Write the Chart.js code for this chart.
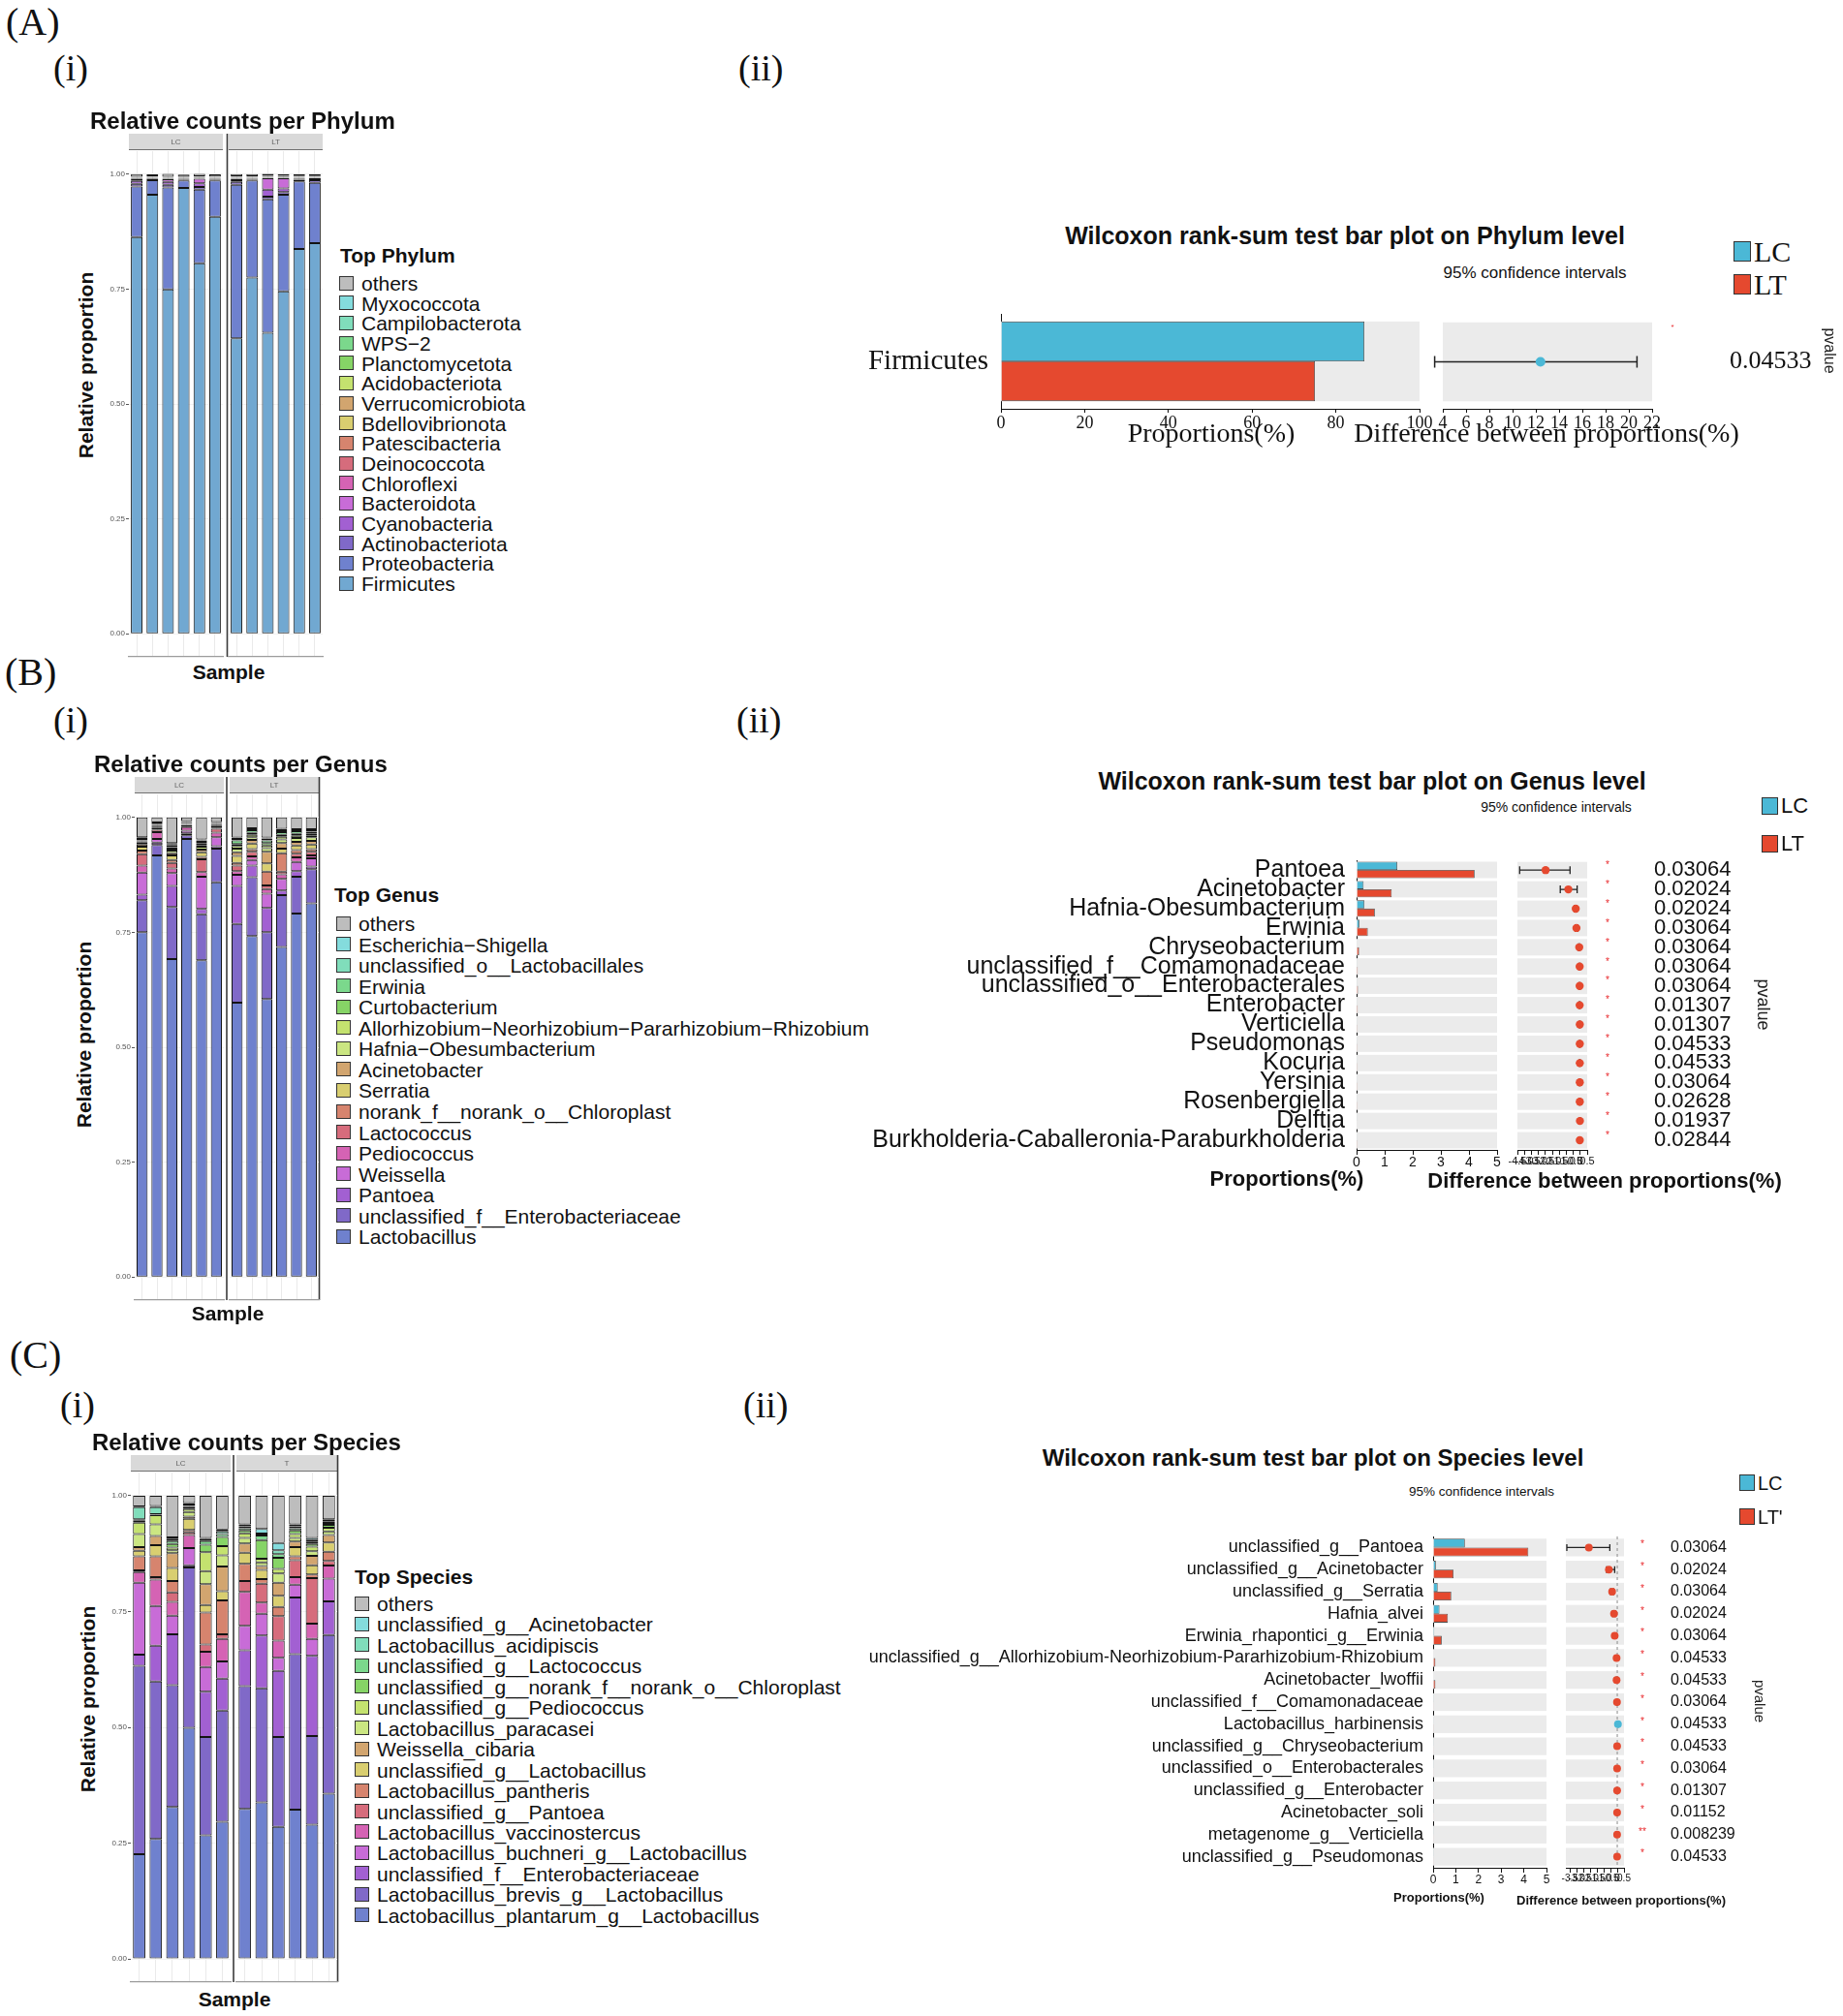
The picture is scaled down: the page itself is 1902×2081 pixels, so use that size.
<!DOCTYPE html>
<html>
<head>
<meta charset="utf-8">
<script src="https://cdn.jsdelivr.net/npm/chart.js@4.4.1/dist/chart.umd.min.js"></script>
<style>
html, body { margin: 0; padding: 0; background: #fff; }
#page { position: relative; width: 1902px; height: 2081px; overflow: hidden; font-family: 'Liberation Sans', Arial, sans-serif; color: #111; }
.t { position: absolute; white-space: nowrap; line-height: 1; }
.cv { position: absolute; }
.box { position: absolute; box-sizing: border-box; border: 1px solid #333; }
</style>
</head>
<body>
<div id="page"></div>
<script>
/* ---------- data: stacked relative abundance (columns = samples) ---------- */
const sampleLabels = ['LC1','LC2','LC3','LC4','LC5','LC6','LT1','LT2','LT3','LT4','LT5','LT6'];

const phylumNames = ['others','Myxococcota','Campilobacterota','WPS\u22122','Planctomycetota','Acidobacteriota',
  'Verrucomicrobiota','Bdellovibrionota','Patescibacteria','Deinococcota','Chloroflexi','Bacteroidota',
  'Cyanobacteria','Actinobacteriota','Proteobacteria','Firmicutes'];
const phylumValues = [
  [0.006,0.004,0.006,0.005,0.005,0.005, 0.005,0.005,0.004,0.004,0.004,0.004],
  [0.0004,0.0003,0.0005,0.0002,0.0004,0.0003, 0.0004,0.0003,0.0005,0.0004,0.0003,0.0004],
  [0.0003,0.0002,0.0004,0.0002,0.0005,0.0003, 0.0005,0.0004,0.0004,0.0003,0.0004,0.0003],
  [0.0005,0.0003,0.0004,0.0003,0.0004,0.0002, 0.0004,0.0005,0.0006,0.0005,0.0004,0.0004],
  [0.0004,0.0004,0.0006,0.0003,0.0005,0.0004, 0.0006,0.0005,0.0005,0.0006,0.0005,0.0005],
  [0.0005,0.0004,0.0005,0.0004,0.0006,0.0005, 0.0005,0.0006,0.0006,0.0005,0.0006,0.0005],
  [0.0006,0.0005,0.0006,0.0004,0.0005,0.0005, 0.0006,0.0005,0.0007,0.0006,0.0005,0.0006],
  [0.0005,0.0006,0.0005,0.0005,0.0006,0.0006, 0.0005,0.0006,0.0005,0.0006,0.0006,0.0005],
  [0.0006,0.0005,0.0007,0.0005,0.0006,0.0005, 0.0006,0.0005,0.0006,0.0005,0.0005,0.0006],
  [0.0005,0.0005,0.0005,0.0006,0.0005,0.0006, 0.0005,0.0006,0.0005,0.0006,0.0006,0.0006],
  [0.0007,0.0006,0.0006,0.0006,0.0007,0.0006, 0.0005,0.0005,0.0006,0.0006,0.0006,0.0005],
  [0.004,0.001,0.006,0.001,0.010,0.001, 0.003,0.001,0.025,0.022,0.001,0.002],
  [0.006,0.001,0.006,0.001,0.008,0.001, 0.004,0.001,0.015,0.008,0.002,0.002],
  [0.006,0.002,0.006,0.002,0.006,0.002, 0.006,0.002,0.006,0.006,0.004,0.006],
  [0.110,0.032,0.222,0.016,0.160,0.079, 0.334,0.211,0.290,0.210,0.147,0.131],
  [0.863,0.955,0.749,0.970,0.806,0.907, 0.643,0.775,0.655,0.745,0.837,0.850]
];
const phylumColors = ['#BDBDBD','#84DCDD','#80DDBB','#7BD88C','#86D466','#C4E26F','#D2A56F','#D9CE70',
  '#D6846E','#D66C7C','#D563B4','#C86CD7','#A260D2','#8069C8','#6F81CE','#71A8D1'];

const genusNames = ['others','Escherichia\u2212Shigella','unclassified_o__Lactobacillales','Erwinia','Curtobacterium',
  'Allorhizobium\u2212Neorhizobium\u2212Pararhizobium\u2212Rhizobium','Hafnia\u2212Obesumbacterium','Acinetobacter','Serratia',
  'norank_f__norank_o__Chloroplast','Lactococcus','Pediococcus','Weissella','Pantoea',
  'unclassified_f__Enterobacteriaceae','Lactobacillus'];
const genusValues = [
  [0.043,0.011,0.056,0.008,0.048,0.010, 0.044,0.024,0.044,0.025,0.026,0.026],
  [0.002,0.002,0.002,0.001,0.002,0.001, 0.003,0.002,0.002,0.003,0.002,0.002],
  [0.002,0.001,0.003,0.001,0.003,0.001, 0.003,0.002,0.004,0.004,0.002,0.003],
  [0.003,0.002,0.004,0.001,0.004,0.001, 0.008,0.006,0.006,0.006,0.006,0.004],
  [0.002,0.001,0.003,0.001,0.003,0.001, 0.004,0.004,0.005,0.004,0.004,0.004],
  [0.003,0.001,0.004,0.001,0.004,0.001, 0.006,0.005,0.006,0.006,0.005,0.004],
  [0.004,0.002,0.006,0.001,0.006,0.002, 0.008,0.006,0.008,0.008,0.008,0.008],
  [0.005,0.002,0.005,0.001,0.006,0.002, 0.008,0.008,0.025,0.012,0.008,0.008],
  [0.008,0.002,0.010,0.001,0.010,0.003, 0.015,0.012,0.018,0.010,0.010,0.010],
  [0.008,0.003,0.006,0.001,0.005,0.003, 0.006,0.006,0.030,0.040,0.008,0.006],
  [0.025,0.005,0.012,0.004,0.028,0.008, 0.012,0.010,0.008,0.006,0.008,0.008],
  [0.015,0.015,0.010,0.008,0.010,0.010, 0.008,0.008,0.010,0.010,0.010,0.006],
  [0.048,0.008,0.028,0.006,0.070,0.020, 0.024,0.012,0.031,0.025,0.020,0.018],
  [0.012,0.005,0.046,0.004,0.012,0.005, 0.083,0.025,0.053,0.010,0.012,0.006],
  [0.070,0.023,0.113,0.008,0.100,0.073, 0.171,0.128,0.145,0.113,0.080,0.074],
  [0.750,0.917,0.692,0.953,0.689,0.859, 0.597,0.742,0.605,0.718,0.791,0.813]
];
const genusColors = ['#BDBDBD','#84DCDD','#80DDBB','#7BD88C','#86D466','#C4E26F','#CBE682','#D2A56F',
  '#D9CE70','#D6846E','#D66C7C','#D563B4','#C86CD7','#A260D2','#8069C8','#6F81CE'];

const speciesNames = ['others','unclassified_g__Acinetobacter','Lactobacillus_acidipiscis','unclassified_g__Lactococcus',
  'unclassified_g__norank_f__norank_o__Chloroplast','unclassified_g__Pediococcus','Lactobacillus_paracasei',
  'Weissella_cibaria','unclassified_g__Lactobacillus','Lactobacillus_pantheris','unclassified_g__Pantoea',
  'Lactobacillus_vaccinostercus','Lactobacillus_buchneri_g__Lactobacillus','unclassified_f__Enterobacteriaceae',
  'Lactobacillus_brevis_g__Lactobacillus','Lactobacillus_plantarum_g__Lactobacillus'];
const speciesValues = [
  [0.023,0.022,0.090,0.016,0.091,0.073, 0.062,0.072,0.102,0.062,0.091,0.051],
  [0.002,0.003,0.004,0.003,0.003,0.004, 0.004,0.010,0.016,0.004,0.005,0.004],
  [0.026,0.015,0.004,0.003,0.004,0.006, 0.004,0.004,0.008,0.004,0.004,0.004],
  [0.003,0.001,0.006,0.003,0.008,0.006, 0.005,0.010,0.008,0.005,0.004,0.004],
  [0.004,0.001,0.008,0.004,0.016,0.020, 0.006,0.040,0.024,0.008,0.006,0.006],
  [0.025,0.020,0.006,0.006,0.041,0.020, 0.010,0.008,0.010,0.008,0.010,0.008],
  [0.028,0.025,0.006,0.010,0.028,0.024, 0.012,0.008,0.020,0.008,0.010,0.008],
  [0.008,0.020,0.032,0.005,0.045,0.053, 0.020,0.008,0.028,0.012,0.020,0.016],
  [0.012,0.024,0.028,0.024,0.016,0.020, 0.024,0.020,0.024,0.020,0.020,0.020],
  [0.030,0.045,0.025,0.005,0.069,0.073, 0.037,0.010,0.020,0.008,0.008,0.020],
  [0.004,0.005,0.020,0.006,0.016,0.010, 0.024,0.041,0.053,0.037,0.098,0.010],
  [0.023,0.057,0.030,0.028,0.033,0.049, 0.073,0.024,0.037,0.016,0.033,0.028],
  [0.155,0.086,0.040,0.037,0.053,0.037, 0.053,0.047,0.028,0.028,0.037,0.049],
  [0.024,0.077,0.110,0.005,0.098,0.069, 0.077,0.114,0.143,0.122,0.173,0.073],
  [0.407,0.340,0.263,0.346,0.212,0.240, 0.265,0.246,0.194,0.336,0.191,0.342],
  [0.226,0.259,0.328,0.499,0.267,0.296, 0.324,0.338,0.285,0.322,0.290,0.357]
];
const speciesColors = genusColors;

/* ---------- data: Wilcoxon rank-sum tests (proportions in %) ---------- */
const phylumTestNames = ['Firmicutes'];
const phylumTestLC = [86.8];
const phylumTestLT = [75.0];
const phylumDiff = [12.4];
const phylumLow = [3.3];
const phylumHigh = [20.7];
const phylumP = ['0.04533'];
const phylumStars = ['*'];

const genusTestNames = ['Pantoea','Acinetobacter','Hafnia-Obesumbacterium','Erwinia','Chryseobacterium',
  'unclassified_f__Comamonadaceae','unclassified_o__Enterobacterales','Enterobacter','Verticiella','Pseudomonas',
  'Kocuria','Yersinia','Rosenbergiella','Delftia','Burkholderia-Caballeronia-Paraburkholderia'];
const genusTestLC = [1.45,0.25,0.28,0.10,0.02,0.01,0.01,0.01,0.01,0.01,0.01,0.01,0.01,0.01,0.01];
const genusTestLT = [4.20,1.25,0.65,0.40,0.09,0.04,0.05,0.04,0.03,0.03,0.03,0.03,0.03,0.02,0.03];
const genusDiff = [-2.48,-0.85,-0.32,-0.27,-0.07,-0.04,-0.04,-0.04,-0.03,-0.03,-0.03,-0.03,-0.03,-0.02,-0.03];
const genusLow = [-4.34,-1.43,-0.40,-0.35,-0.12,-0.07,-0.08,-0.07,-0.05,-0.05,-0.05,-0.05,-0.05,-0.04,-0.05];
const genusHigh = [-0.73,-0.22,-0.24,-0.19,-0.03,-0.01,-0.01,-0.01,-0.01,-0.01,-0.01,-0.01,-0.01,0.00,-0.01];
const genusP = ['0.03064','0.02024','0.02024','0.03064','0.03064','0.03064','0.03064','0.01307','0.01307',
  '0.04533','0.04533','0.03064','0.02628','0.01937','0.02844'];
const genusStars = ['*','*','*','*','*','*','*','*','*','*','*','*','*','*','*'];

const speciesTestNames = ['unclassified_g__Pantoea','unclassified_g__Acinetobacter','unclassified_g__Serratia',
  'Hafnia_alvei','Erwinia_rhapontici_g__Erwinia','unclassified_g__Allorhizobium-Neorhizobium-Pararhizobium-Rhizobium',
  'Acinetobacter_lwoffii','unclassified_f__Comamonadaceae','Lactobacillus_harbinensis','unclassified_g__Chryseobacterium',
  'unclassified_o__Enterobacterales','unclassified_g__Enterobacter','Acinetobacter_soli','metagenome_g__Verticiella',
  'unclassified_g__Pseudomonas'];
const speciesTestLC = [1.40,0.12,0.20,0.28,0.05,0.02,0.02,0.01,0.03,0.01,0.01,0.01,0.01,0.01,0.01];
const speciesTestLT = [4.20,0.90,0.80,0.65,0.38,0.10,0.10,0.03,0.01,0.03,0.03,0.03,0.03,0.03,0.03];
const speciesDiff = [-2.10,-0.62,-0.38,-0.24,-0.19,-0.05,-0.05,-0.02,0.05,-0.01,-0.01,-0.01,-0.01,-0.01,-0.01];
const speciesLow = [-3.73,-0.79,-0.50,-0.34,-0.27,-0.10,-0.10,-0.04,0.02,-0.03,-0.03,-0.03,-0.03,-0.03,-0.03];
const speciesHigh = [-0.55,-0.19,-0.27,-0.15,-0.11,-0.01,-0.01,0.00,0.08,0.01,0.01,0.01,0.01,0.01,0.01];
const speciesP = ['0.03064','0.02024','0.03064','0.02024','0.03064','0.04533','0.04533','0.03064','0.04533',
  '0.04533','0.03064','0.01307','0.01152','0.008239','0.04533'];
const speciesStars = ['*','*','*','*','*','*','*','*','*','*','*','*','*','**','*'];

/* ---------- helpers ---------- */
const SANS = "'Liberation Sans', Arial, Helvetica, sans-serif";
const SERIF = "'Liberation Serif', 'Times New Roman', serif";
const LC_COL = '#4BB8D6', LT_COL = '#E5492F';
const page = document.getElementById('page');

Chart.defaults.animation = false;
Chart.defaults.maintainAspectRatio = false;
Chart.defaults.font.family = SANS;
Chart.defaults.plugins.legend.display = false;
Chart.defaults.plugins.tooltip.enabled = false;

function txt(s, x, y, o) {
  o = o || {};
  const d = document.createElement('div');
  d.className = 't';
  d.textContent = s;
  d.style.left = x + 'px';
  d.style.top = y + 'px';
  d.style.fontSize = (o.size || 16) + 'px';
  if (o.bold) d.style.fontWeight = 'bold';
  if (o.serif) d.style.fontFamily = SERIF;
  const ax = o.align === 'center' ? '-50%' : o.align === 'right' ? '-100%' : '0';
  d.style.transform = 'translate(' + ax + ',-50%)' + (o.rot ? ' rotate(' + o.rot + 'deg)' : '');
  page.appendChild(d);
}

function box(x, y, w, h, color) {
  const d = document.createElement('div');
  d.className = 'box';
  d.style.cssText = 'left:' + x + 'px;top:' + y + 'px;width:' + w + 'px;height:' + h + 'px;background:' + color;
  page.appendChild(d);
}

function makeCanvas(x, y, w, h) {
  const d = document.createElement('div');
  d.className = 'cv';
  d.style.cssText = 'left:' + x + 'px;top:' + y + 'px;width:' + w + 'px;height:' + h + 'px';
  const c = document.createElement('canvas');
  d.appendChild(c);
  page.appendChild(d);
  return c;
}

// force an axis to a fixed size so the chart area lands where we want it
function fix(w, h) {
  return s => {
    if (w !== null) s.width = w;
    if (h !== null) s.height = h;
    s.paddingLeft = s.paddingRight = s.paddingTop = s.paddingBottom = 0;
  };
}

/* facet strip + panel lines for the stacked bar charts */
const facetPlugin = {
  id: 'facet',
  beforeDraw(chart, args, o) {
    const {ctx, chartArea: a} = chart;
    ctx.save();
    ctx.fillStyle = '#D9D9D9';
    ctx.fillRect(a.left, a.top - 18, a.width, 17);
    ctx.strokeStyle = '#707070';
    ctx.lineWidth = 1.2;
    ctx.beginPath(); ctx.moveTo(a.left, a.top - 1.5); ctx.lineTo(a.right, a.top - 1.5); ctx.stroke();
    ctx.fillStyle = '#666';
    ctx.font = '8px ' + SANS;
    ctx.textAlign = 'center';
    ctx.textBaseline = 'middle';
    ctx.fillText(o.text, (a.left + a.right) / 2, a.top - 9.5);
    ctx.strokeStyle = '#3a3a3a';
    ctx.lineWidth = 1.6;
    if (o.left != null) {
      ctx.beginPath(); ctx.moveTo(a.left - o.left, a.top - 18); ctx.lineTo(a.left - o.left, a.bottom); ctx.stroke();
    }
    if (o.right) {
      ctx.beginPath(); ctx.moveTo(a.right + 0.5, a.top - 18); ctx.lineTo(a.right + 0.5, a.bottom); ctx.stroke();
    }
    ctx.restore();
  }
};

function facet(o) {
  const m = {left: o.showY ? 28 : 6, top: 20, right: 4, bottom: 3};
  const A = o.area;
  const cv = makeCanvas(A.l - m.left, A.t - m.top, A.r - A.l + m.left + m.right, A.b - A.t + m.top + m.bottom);
  const datasets = [];
  for (let k = o.names.length - 1; k >= 0; k--) {
    datasets.push({
      label: o.names[k],
      data: o.rows[k].slice(o.from, o.from + 6),
      backgroundColor: o.colors[k],
      borderColor: '#141414',
      borderWidth: 1,
      borderSkipped: false,
      barPercentage: 0.74,
      categoryPercentage: 1
    });
  }
  new Chart(cv, {
    type: 'bar',
    data: {labels: sampleLabels.slice(o.from, o.from + 6), datasets},
    options: {
      layout: {padding: {left: o.showY ? 0 : m.left, top: m.top, right: m.right, bottom: m.bottom}},
      plugins: {facet: {text: o.strip, left: o.leftLine, right: o.rightLine}},
      scales: {
        x: {
          stacked: true, offset: true,
          ticks: {display: false},
          grid: {color: '#EAEAEA', offset: false, drawTicks: false},
          border: {color: '#9C9C9C', width: 1.2},
          afterFit: fix(null, 0)
        },
        y: {
          stacked: true, min: -0.05, max: 1.05,
          ticks: {display: o.showY, stepSize: 0.25, includeBounds: false, padding: 1,
                  color: '#555', font: {size: 8}, callback: v => v.toFixed(2)},
          grid: {color: '#F2F2F2', drawTicks: o.showY, tickLength: 3, tickColor: '#555'},
          border: {display: false},
          afterFit: fix(o.showY ? 28 : 0, null)
        }
      }
    },
    plugins: [facetPlugin]
  });
}

function stackPanel(p) {
  facet({area: {l: p.lc[0], r: p.lc[1], t: p.t, b: p.b}, names: p.names, colors: p.colors, rows: p.rows,
         from: 0, strip: 'LC', showY: true});
  facet({area: {l: p.lt[0], r: p.lt[1], t: p.t, b: p.b}, names: p.names, colors: p.colors, rows: p.rows,
         from: 6, strip: p.ltStrip, showY: false, leftLine: p.div, rightLine: p.rightLine});
  txt(p.title, p.titleX, p.titleY, {size: 24, bold: true});
  txt('Relative proportion', p.ylabX, p.ylabY, {size: 21, bold: true, align: 'center', rot: -90});
  txt('Sample', p.sampleX, p.sampleY, {size: 21, bold: true, align: 'center'});
  txt(p.legTitle, p.legX, p.legTitleY, {size: 21, bold: true});
  p.names.forEach((n, i) => {
    const cy = p.legY0 + i * p.legStep;
    box(p.legBoxX, cy - 7.5, 15, 15, p.colors[i]);
    txt(n, p.legTextX, cy, {size: 21});
  });
}

/* grey row bands behind the test bars */
const bandPlugin = {
  id: 'bands',
  beforeDatasetsDraw(chart, args, o) {
    const {ctx, chartArea: a, scales: {y}} = chart;
    const h = a.height / o.n * o.frac;
    ctx.save();
    ctx.fillStyle = '#EBEBEB';
    for (let i = 0; i < o.n; i++) {
      const c = y.getPixelForValue(i);
      ctx.fillRect(a.left, c - h / 2, a.width, h);
    }
    ctx.restore();
  }
};

/* confidence intervals, zero line, stars and p values */
const ciPlugin = {
  id: 'ci',
  beforeDatasetsDraw(chart, args, o) {
    const {ctx, chartArea: a, scales: {x, y}} = chart;
    ctx.save();
    if (o.zero) {
      const zx = x.getPixelForValue(0);
      ctx.strokeStyle = '#8a8a8a'; ctx.lineWidth = 1; ctx.setLineDash([3, 3]);
      ctx.beginPath(); ctx.moveTo(zx, a.top); ctx.lineTo(zx, a.bottom); ctx.stroke();
      ctx.setLineDash([]);
    }
    ctx.strokeStyle = '#222'; ctx.lineWidth = o.lw;
    o.low.forEach((lo, i) => {
      const x1 = x.getPixelForValue(lo), x2 = x.getPixelForValue(o.high[i]), yc = y.getPixelForValue(i);
      ctx.beginPath();
      ctx.moveTo(x1, yc); ctx.lineTo(x2, yc);
      ctx.moveTo(x1, yc - o.cap); ctx.lineTo(x1, yc + o.cap);
      ctx.moveTo(x2, yc - o.cap); ctx.lineTo(x2, yc + o.cap);
      ctx.stroke();
    });
    ctx.restore();
  },
  afterDraw(chart, args, o) {
    const {ctx, scales: {y}} = chart;
    ctx.save();
    ctx.textBaseline = 'middle';
    o.p.forEach((pv, i) => {
      const yc = y.getPixelForValue(i);
      ctx.fillStyle = '#E8262A';
      ctx.font = o.starSize + 'px ' + SANS;
      ctx.textAlign = 'center';
      ctx.fillText(o.stars[i], o.starX - o.left, yc + o.starDy);
      ctx.fillStyle = '#111';
      ctx.font = o.pSize + 'px ' + o.pFamily;
      ctx.textAlign = 'left';
      ctx.fillText(pv, o.pX - o.left, yc);
    });
    ctx.translate(o.pvX - o.left, o.pvY - o.top);
    ctx.rotate(Math.PI / 2);
    ctx.fillStyle = '#222';
    ctx.font = o.pvSize + 'px ' + SANS;
    ctx.textAlign = 'center';
    ctx.fillText('pvalue', 0, 0);
    ctx.restore();
  }
};

function testPanel(o) {
  const n = o.names.length;
  const B = o.bar;
  // proportions bar chart
  const c1 = makeCanvas(B.l - o.labW, B.t - 4, B.r - B.l + o.labW + 18, B.b - B.t + 4 + o.axisH);
  new Chart(c1, {
    type: 'bar',
    data: {labels: o.names, datasets: [
      {label: 'LC', data: o.lc, backgroundColor: LC_COL, borderColor: '#4a4a4a', borderWidth: 0.8,
       categoryPercentage: o.band, barPercentage: 1},
      {label: 'LT', data: o.lt, backgroundColor: LT_COL, borderColor: '#4a4a4a', borderWidth: 0.8,
       categoryPercentage: o.band, barPercentage: 1}
    ]},
    options: {
      indexAxis: 'y',
      layout: {padding: {top: 4, right: 18, left: 0, bottom: 0}},
      plugins: {bands: {n, frac: o.band}},
      scales: {
        y: {
          ticks: {autoSkip: false, padding: o.labPad, color: '#111', font: {family: o.family, size: o.labSize}},
          grid: {display: false, drawTicks: false},
          border: {color: '#111', width: 1},
          afterFit: fix(o.labW, null)
        },
        x: {
          min: 0, max: o.barMax,
          ticks: {stepSize: o.barStep, padding: 0, autoSkip: false, maxRotation: 0, color: '#111',
                  font: {family: o.family, size: o.tickSize}},
          grid: {drawOnChartArea: false, tickLength: o.tickLen, tickColor: '#111'},
          border: {color: '#111', width: 1},
          afterFit: fix(null, o.axisH)
        }
      }
    },
    plugins: [bandPlugin]
  });

  // difference with 95% CI
  const C = o.ci;
  const left = C.l - 16, top = B.t - 4;
  const c2 = makeCanvas(left, top, 1902 - left, B.b - B.t + 4 + o.axisH);
  new Chart(c2, {
    type: 'scatter',
    data: {datasets: [{
      data: o.diff.map((v, i) => ({x: v, y: i})),
      pointRadius: o.r,
      pointBackgroundColor: o.diff.map(v => v < 0 ? LT_COL : LC_COL),
      pointBorderWidth: 0,
      clip: false
    }]},
    options: {
      layout: {padding: {top: 4, left: 16, right: 1902 - C.r, bottom: 0}},
      plugins: {
        bands: {n, frac: o.band},
        ci: {low: o.low, high: o.high, cap: o.cap, lw: o.lw, zero: o.zero, p: o.p, stars: o.stars,
             left, top, starX: o.starX, starDy: o.starDy, starSize: o.starSize,
             pX: o.pX, pSize: o.pSize, pFamily: o.pFamily, pvX: o.pvX, pvY: o.pvY, pvSize: o.pvSize}
      },
      scales: {
        x: {
          min: C.min, max: C.max,
          ticks: {stepSize: C.step, includeBounds: false, padding: 0, autoSkip: false, maxRotation: 0,
                  color: '#111', font: {family: o.family, size: C.tickSize}},
          grid: {drawOnChartArea: false, tickLength: o.tickLen, tickColor: '#111'},
          border: {color: '#111', width: 1},
          afterFit: fix(null, o.axisH)
        },
        y: {display: false, min: -0.5, max: n - 0.5, reverse: true}
      }
    },
    plugins: [bandPlugin, ciPlugin]
  });

  txt(o.title, o.titleX, o.titleY, {size: o.titleSize, bold: true, align: 'center'});
  txt('95% confidence intervals', o.ciTextX, o.ciTextY, {size: o.ciTextSize, align: 'center'});
  box(o.legX, o.legY[0], o.legW, o.legH, LC_COL);
  box(o.legX, o.legY[1], o.legW, o.legH, LT_COL);
  txt('LC', o.legX + o.legW + 3, o.legY[0] + o.legH / 2, {size: o.legSize, serif: o.serif});
  txt(o.ltName, o.legX + o.legW + 3, o.legY[1] + o.legH / 2, {size: o.legSize, serif: o.serif});
  txt('Proportions(%)', o.propX, o.propY, {size: o.axTitleSize, bold: !o.serif, serif: o.serif, align: 'center'});
  txt('Difference between proportions(%)', o.diffX, o.diffY,
      {size: o.axTitleSize, bold: !o.serif, serif: o.serif, align: 'center'});
}

/* ---------- panel labels ---------- */
txt('(A)', 6, 23, {size: 40, serif: true});
txt('(i)', 55, 70, {size: 38, serif: true});
txt('(ii)', 762, 70, {size: 38, serif: true});
txt('(B)', 5, 694, {size: 40, serif: true});
txt('(i)', 55, 743, {size: 38, serif: true});
txt('(ii)', 760, 743, {size: 38, serif: true});
txt('(C)', 10, 1399, {size: 40, serif: true});
txt('(i)', 62, 1450, {size: 38, serif: true});
txt('(ii)', 767, 1450, {size: 38, serif: true});

/* ---------- (i) stacked bar charts ---------- */
stackPanel({names: phylumNames, colors: phylumColors, rows: phylumValues,
  lc: [133, 230], lt: [236, 333], t: 156, b: 678, ltStrip: 'LT', div: 1.5, rightLine: false,
  title: 'Relative counts per Phylum', titleX: 93, titleY: 125, ylabX: 88, ylabY: 377,
  sampleX: 236, sampleY: 693, legTitle: 'Top Phylum', legX: 351, legTitleY: 263,
  legBoxX: 350, legTextX: 373, legY0: 292, legStep: 20.67});

stackPanel({names: genusNames, colors: genusColors, rows: genusValues,
  lc: [139, 231], lt: [237, 329], t: 820, b: 1342, ltStrip: 'LT', div: 3, rightLine: true,
  title: 'Relative counts per Genus', titleX: 97, titleY: 789, ylabX: 86, ylabY: 1068,
  sampleX: 235, sampleY: 1355, legTitle: 'Top Genus', legX: 345, legTitleY: 923,
  legBoxX: 347, legTextX: 370, legY0: 953, legStep: 21.56});

stackPanel({names: speciesNames, colors: speciesColors, rows: speciesValues,
  lc: [135, 238], lt: [244, 348], t: 1520, b: 2046, ltStrip: 'T', div: 3, rightLine: true,
  title: 'Relative counts per Species', titleX: 95, titleY: 1489, ylabX: 90, ylabY: 1754,
  sampleX: 242, sampleY: 2063, legTitle: 'Top Species', legX: 366, legTitleY: 1627,
  legBoxX: 366, legTextX: 389, legY0: 1655, legStep: 21.45});

/* ---------- (ii) Wilcoxon rank-sum test plots ---------- */
testPanel({names: phylumTestNames, lc: phylumTestLC, lt: phylumTestLT, diff: phylumDiff,
  low: phylumLow, high: phylumHigh, p: phylumP, stars: phylumStars,
  bar: {l: 1033, r: 1465, t: 324, b: 422}, labW: 153, labPad: 13, labSize: 29, family: SERIF, serif: true,
  tickSize: 18, tickLen: 4, axisH: 30, band: 0.84, barMax: 100, barStep: 20,
  ci: {l: 1489, r: 1705, min: 4, max: 22, step: 2, tickSize: 18},
  r: 5, cap: 6, lw: 1.5, zero: false,
  starX: 1726, starDy: -36, starSize: 8, pX: 1785, pSize: 26, pFamily: SERIF, pvX: 1887, pvY: 362, pvSize: 16,
  title: 'Wilcoxon rank-sum test bar plot on Phylum level', titleX: 1388, titleY: 243, titleSize: 25,
  ciTextX: 1584, ciTextY: 281, ciTextSize: 17,
  legX: 1789, legY: [249, 283], legW: 18, legH: 21, legSize: 30, ltName: 'LT',
  propX: 1250, propY: 447, diffX: 1596, diffY: 447, axTitleSize: 28});

testPanel({names: genusTestNames, lc: genusTestLC, lt: genusTestLT, diff: genusDiff,
  low: genusLow, high: genusHigh, p: genusP, stars: genusStars,
  bar: {l: 1400, r: 1545, t: 888, b: 1187}, labW: 520, labPad: 12, labSize: 25, family: SANS, serif: false,
  tickSize: 14, tickLen: 5, axisH: 26, band: 0.85, barMax: 5, barStep: 1,
  ci: {l: 1566, r: 1638, min: -4.5, max: 0.5, step: 0.5, tickSize: 11},
  r: 4.2, cap: 4, lw: 1.3, zero: false,
  starX: 1659, starDy: -5, starSize: 10, pX: 1707, pSize: 22, pFamily: SANS, pvX: 1819, pvY: 1037, pvSize: 18,
  title: 'Wilcoxon rank-sum test bar plot on Genus level', titleX: 1416, titleY: 806, titleSize: 25,
  ciTextX: 1606, ciTextY: 833, ciTextSize: 14,
  legX: 1818, legY: [823, 862], legW: 17, legH: 18, legSize: 22, ltName: 'LT',
  propX: 1328, propY: 1217, diffX: 1656, diffY: 1219, axTitleSize: 22});

testPanel({names: speciesTestNames, lc: speciesTestLC, lt: speciesTestLT, diff: speciesDiff,
  low: speciesLow, high: speciesHigh, p: speciesP, stars: speciesStars,
  bar: {l: 1479, r: 1596, t: 1586, b: 1928}, labW: 609, labPad: 10, labSize: 18, family: SANS, serif: false,
  tickSize: 12, tickLen: 5, axisH: 24, band: 0.8, barMax: 5, barStep: 1,
  ci: {l: 1616, r: 1676, min: -3.8, max: 0.5, step: 0.5, tickSize: 10},
  r: 4, cap: 3.5, lw: 1.3, zero: true,
  starX: 1695, starDy: -3, starSize: 10, pX: 1724, pSize: 16, pFamily: SANS, pvX: 1815, pvY: 1756, pvSize: 15,
  title: 'Wilcoxon rank-sum test bar plot on Species level', titleX: 1355, titleY: 1505, titleSize: 24,
  ciTextX: 1529, ciTextY: 1540, ciTextSize: 13.5,
  legX: 1795, legY: [1522, 1557], legW: 16, legH: 17, legSize: 20, ltName: "LT'",
  propX: 1485, propY: 1958, diffX: 1673, diffY: 1961, axTitleSize: 13});
</script>
</body>
</html>
